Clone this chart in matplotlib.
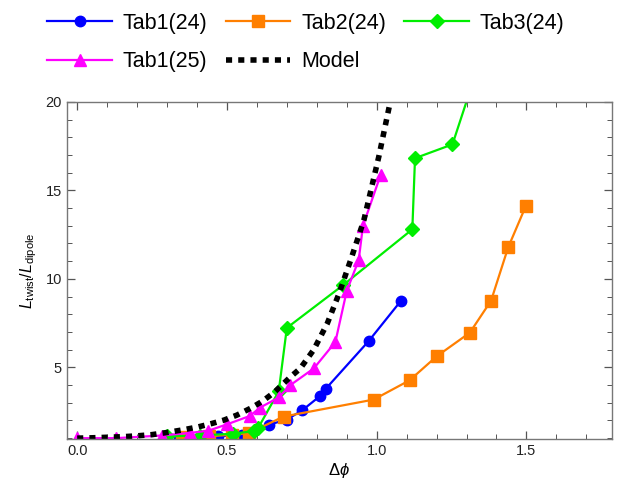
import matplotlib
matplotlib.use('Agg')
import matplotlib.pyplot as plt
from matplotlib.ticker import MultipleLocator, FormatStrFormatter

plt.rcParams['font.family'] = ['Liberation Sans', 'DejaVu Sans']
plt.rcParams['mathtext.fontset'] = 'custom'
plt.rcParams['mathtext.rm'] = 'Liberation Sans'
plt.rcParams['mathtext.it'] = 'Liberation Sans:italic'

# data
tab1_24_x = [0.34, 0.42, 0.47, 0.55, 0.64, 0.70, 0.752, 0.81, 0.83, 0.973, 1.08]
tab1_24_y = [1.0, 1.05, 1.1, 1.2, 1.76, 2.05, 2.58, 3.37, 3.79, 6.48, 8.74]

tab2_24_x = [0.35, 0.44, 0.517, 0.573, 0.689, 0.99, 1.11, 1.20, 1.311, 1.382, 1.439, 1.498]
tab2_24_y = [1.05, 1.1, 1.2, 1.28, 2.22, 3.18, 4.27, 5.62, 6.96, 8.77, 11.78, 14.12]

tab3_24_x = [0.30, 0.41, 0.52, 0.59, 0.605, 0.673, 0.70, 0.888, 1.119, 1.128, 1.253, 1.35]
tab3_24_y = [1.1, 1.15, 1.25, 1.4, 1.6, 3.65, 7.23, 9.65, 12.8, 16.82, 17.6, 22.6]

tab1_25_x = [0.0, 0.13, 0.282, 0.377, 0.438, 0.50, 0.576, 0.611, 0.673, 0.712, 0.79, 0.862, 0.90, 0.94, 0.954, 1.013]
tab1_25_y = [1.0, 1.0, 1.15, 1.3, 1.42, 1.78, 2.25, 2.73, 3.3, 4.0, 4.94, 6.43, 9.32, 11.06, 12.99, 15.87]

model_x = [0.0, 0.05, 0.10, 0.15, 0.20, 0.25, 0.30, 0.36, 0.405, 0.45, 0.49, 0.533, 0.578,
           0.62, 0.66, 0.712, 0.745, 0.79, 0.835, 0.875, 0.913, 0.957, 1.007, 1.044, 1.06]
model_y = [1.0, 1.02, 1.05, 1.08, 1.13, 1.2, 1.32, 1.49, 1.64, 1.83, 2.02, 2.3, 2.68,
           3.1, 3.62, 4.46, 4.94, 6.0, 7.48, 9.2, 11.06, 13.3, 16.9, 19.9, 21.4]

fig = plt.figure(figsize=(6.28, 4.9), dpi=100)
ax = fig.add_axes([0.1062, 0.104, 0.868, 0.688])

h1, = ax.plot(tab1_24_x, tab1_24_y, '-o', color='#0000ff', lw=1.6, ms=7.5, label='Tab1(24)')
h2, = ax.plot(tab2_24_x, tab2_24_y, '-s', color='#ff7f00', lw=1.6, ms=8, label='Tab2(24)')
h3, = ax.plot(tab3_24_x, tab3_24_y, '-D', color='#00ee00', lw=1.6, ms=7, label='Tab3(24)')
h4, = ax.plot(tab1_25_x, tab1_25_y, '-^', color='#ff00ff', lw=1.6, ms=8, label='Tab1(25)')
h5, = ax.plot(model_x, model_y, color='black', lw=4, ls=(0, (1.1, 1.1)), label='Model')

ax.set_xlim(-0.035, 1.785)
ax.set_ylim(0.95, 20)
ax.xaxis.set_major_locator(MultipleLocator(0.5))
ax.xaxis.set_minor_locator(MultipleLocator(0.1))
ax.yaxis.set_major_locator(MultipleLocator(5))
ax.yaxis.set_minor_locator(MultipleLocator(1))
ax.xaxis.set_major_formatter(FormatStrFormatter('%.1f'))
ax.tick_params(which='both', direction='in', top=True, right=True, colors='#555555',
               labelcolor='#222222', labelsize=10.5)
ax.tick_params(which='major', length=6, width=0.9)
ax.tick_params(which='minor', length=3.5, width=0.7)
for s in ax.spines.values():
    s.set_color('#777777')
    s.set_linewidth(1.0)

ax.set_xlabel('Δ$\\phi$', fontsize=12, labelpad=2)
ax.set_ylabel(r'$L_{\rm twist}/L_{\rm dipole}$', fontsize=11.5, labelpad=5)

fig.legend([h1, h4, h2, h5, h3], ['Tab1(24)', 'Tab1(25)', 'Tab2(24)', 'Model', 'Tab3(24)'],
           ncol=3, loc='upper left', bbox_to_anchor=(0.055, 1.0), frameon=False,
           fontsize=15.5, handlelength=3.0, handletextpad=0.5, columnspacing=0.85,
           labelspacing=0.8, borderaxespad=0.2)

fig.savefig('out.png', dpi=100)
